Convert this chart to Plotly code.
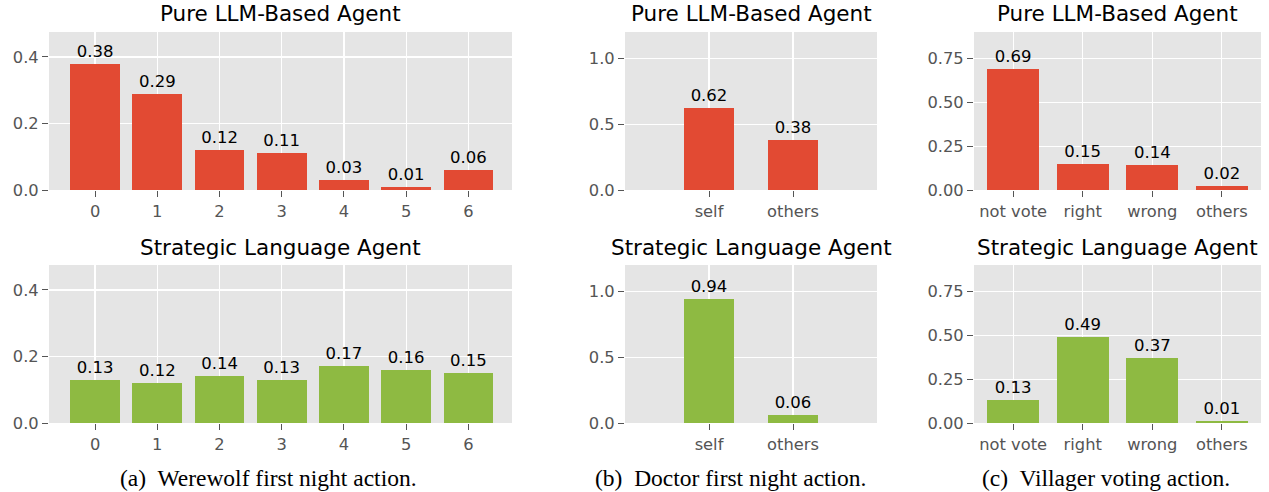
import plotly.graph_objects as go

W, H = 1269, 492

werewolf_cats = ["0", "1", "2", "3", "4", "5", "6"]
werewolf_pure = [0.38, 0.29, 0.12, 0.11, 0.03, 0.01, 0.06]
werewolf_sla = [0.13, 0.12, 0.14, 0.13, 0.17, 0.16, 0.15]

doctor_cats = ["self", "others"]
doctor_pure = [0.62, 0.38]
doctor_sla = [0.94, 0.06]

villager_cats = ["not vote", "right", "wrong", "others"]
villager_pure = [0.69, 0.15, 0.14, 0.02]
villager_sla = [0.13, 0.49, 0.37, 0.01]

titles = ["Pure LLM-Based Agent", "Strategic Language Agent"]
captions = ["(a)  Werewolf first night action.", "(b)  Doctor first night action.", "(c)  Villager voting action."]

RED = "#E24A33"
GREEN = "#8EBA42"
BG = "#E5E5E5"
TICK = "#555555"
FONT = "DejaVu Sans"


def px(x):
    return x / W


def py(y):
    return 1 - y / H


# screen-pixel layout of plot areas
cols_px = [(49, 512), (625, 877), (974, 1261)]
rows_px = [(32, 190), (265, 423)]

panels = [
    (werewolf_cats, [werewolf_pure, werewolf_sla], 0.8, [-0.74, 6.7], [0, 0.475], [0, 0.2, 0.4], ".1f"),
    (doctor_cats, [doctor_pure, doctor_sla], 0.6, [-1.0, 2.0], [0, 1.2], [0, 0.5, 1.0], ".1f"),
    (villager_cats, [villager_pure, villager_sla], 0.75, [-0.5625, 3.5625], [0, 0.9], [0, 0.25, 0.5, 0.75], ".2f"),
]

fig = go.Figure()
annotations = []
idx = 0
for c, (cats, series, width, xr, yr, yt, yfmt) in enumerate(panels):
    x0, x1 = cols_px[c]
    for r in range(2):
        idx += 1
        suffix = "" if idx == 1 else str(idx)
        y0, y1 = rows_px[r]
        fig.add_trace(go.Bar(
            x=cats, y=series[r], width=width,
            marker=dict(color=RED if r == 0 else GREEN, line=dict(width=0)),
            texttemplate="%{y:.2f}", textposition="outside", cliponaxis=False,
            textfont=dict(family=FONT, size=16.5, color="black"),
            xaxis="x" + suffix, yaxis="y" + suffix, showlegend=False,
            hoverinfo="skip",
        ))
        fig.layout["xaxis" + suffix] = dict(
            domain=[px(x0), px(x1)], anchor="y" + suffix, range=xr,
            showgrid=True, gridcolor="white", gridwidth=1.2, zeroline=False,
            ticks="outside", ticklen=6, tickcolor=TICK, tickwidth=1,
            tickfont=dict(family=FONT, size=16.3, color=TICK), ticklabelstandoff=0,
            showline=False, fixedrange=True, automargin=False,
        )
        fig.layout["yaxis" + suffix] = dict(
            domain=[py(y1), py(y0)], anchor="x" + suffix, range=yr,
            tickvals=yt, tickformat=yfmt,
            showgrid=True, gridcolor="white", gridwidth=1.2, zeroline=False,
            ticks="outside", ticklen=6, tickcolor=TICK, tickwidth=1,
            tickfont=dict(family=FONT, size=16.3, color=TICK), ticklabelstandoff=0,
            showline=False, fixedrange=True, automargin=False,
        )
        annotations.append(dict(
            text=titles[r], x=px((x0 + x1) / 2), y=py(y0 - 18),
            xref="paper", yref="paper", xanchor="center", yanchor="middle",
            showarrow=False, font=dict(family=FONT, size=21.5, color="black"),
        ))
    cap_centers = [268, 731, 1106]
    annotations.append(dict(
        text=captions[c], x=px(cap_centers[c]), y=py(478),
        xref="paper", yref="paper", xanchor="center", yanchor="middle",
        showarrow=False, font=dict(family="Liberation Serif", size=23.5, color="black"),
    ))

fig.update_layout(
    width=W, height=H, margin=dict(l=0, r=0, t=0, b=0, autoexpand=False),
    paper_bgcolor="white", plot_bgcolor=BG,
    annotations=annotations, bargap=0,
)

fig.write_html(
    "out.html",
    config={"displayModeBar": False, "staticPlot": True},
    post_script="document.body.style.margin='0px';document.body.style.overflow='hidden';",
)
